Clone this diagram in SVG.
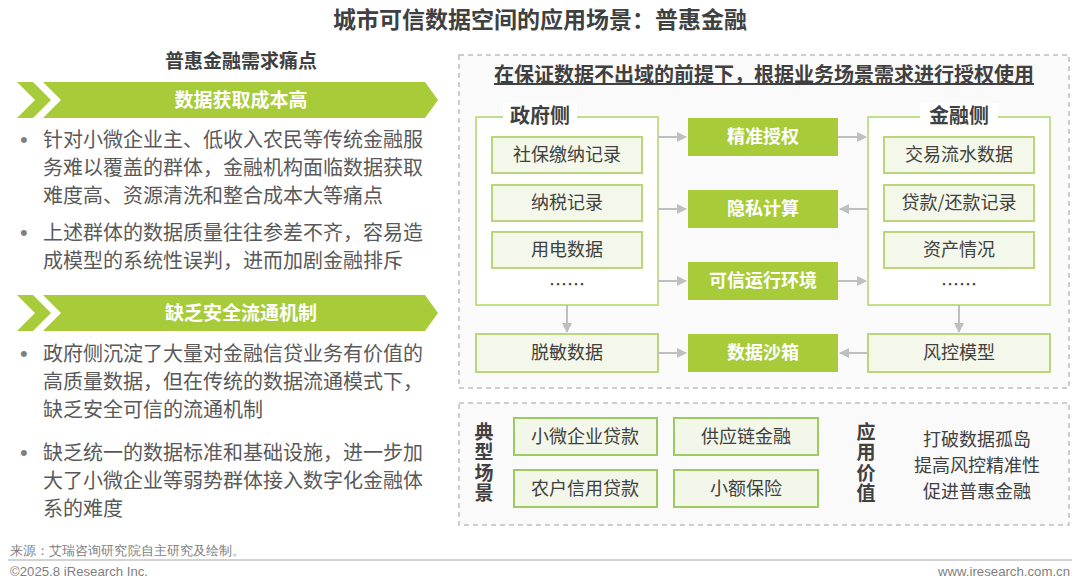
<svg xmlns="http://www.w3.org/2000/svg" width="1080" height="587" viewBox="0 0 1080 587">
<defs>
<style>
text{font-family:"Noto Sans CJK SC","Liberation Sans",sans-serif;}
.t{fill:#404040;font-weight:bold;}
.b{fill:#595959;font-size:20px;}
.dot{fill:#7f7f7f;font-size:22px;font-family:"Liberation Sans",sans-serif;}
.ban{fill:#a8cb3a;}
.bt{fill:#fff;font-weight:bold;font-size:19px;text-anchor:middle;}
.dash{fill:#fafafa;stroke:#bfbfbf;stroke-width:1.5;stroke-dasharray:5 4;}
.outer{fill:#fff;stroke:#c2df8a;stroke-width:2;}
.inner{fill:#f4f8ea;stroke:#b9d77a;stroke-width:2;}
.mid{fill:#a8cb3a;}
.it{fill:#404040;font-size:18px;text-anchor:middle;}
.mt{fill:#fff;font-size:18px;font-weight:bold;text-anchor:middle;}
.sc{fill:#f3f7ea;stroke:#9ccb62;stroke-width:2;}
.vt{fill:#404040;font-size:19px;font-weight:bold;text-anchor:middle;writing-mode:vertical-rl;letter-spacing:1.5px;}
.conn{stroke:#bfbfbf;stroke-width:2;fill:none;marker-end:url(#ah);}
.ft{fill:#7f7f7f;font-size:13px;font-family:"Liberation Sans Narrow","Liberation Sans",sans-serif;}
</style>
<marker id="ah" viewBox="0 0 10 10" refX="9" refY="5" markerWidth="5" markerHeight="5" orient="auto" markerUnits="strokeWidth">
<path d="M0,0 L10,5 L0,10 z" fill="#bfbfbf"/>
</marker>
</defs>
<rect width="1080" height="587" fill="#fff"/>

<text x="540" y="28" class="t" font-size="23" text-anchor="middle">城市可信数据空间的应用场景：普惠金融</text>

<g id="left-panel">
<text x="241" y="68" class="t" font-size="19" text-anchor="middle">普惠金融需求痛点</text>
<g id="banner1">
<polygon class="ban" points="17,82 33,82 51,100 33,118 17,118 35,100"/>
<polygon class="ban" points="43,82 425,82 438,100 425,118 43,118 61,100"/>
<text x="241" y="107" class="bt">数据获取成本高</text>
</g>
<g id="bullets1">
<text x="20" y="147" class="dot">•</text>
<text x="43" y="147" class="b">针对小微企业主、低收入农民等传统金融服</text>
<text x="43" y="175" class="b">务难以覆盖的群体，金融机构面临数据获取</text>
<text x="43" y="203" class="b">难度高、资源清洗和整合成本大等痛点</text>
<text x="20" y="240" class="dot">•</text>
<text x="43" y="240" class="b">上述群体的数据质量往往参差不齐，容易造</text>
<text x="43" y="268" class="b">成模型的系统性误判，进而加剧金融排斥</text>
</g>
<g id="banner2">
<polygon class="ban" points="17,295 33,295 51,313 33,331 17,331 35,313"/>
<polygon class="ban" points="43,295 425,295 438,313 425,331 43,331 61,313"/>
<text x="241" y="320" class="bt">缺乏安全流通机制</text>
</g>
<g id="bullets2">
<text x="20" y="361" class="dot">•</text>
<text x="43" y="361" class="b">政府侧沉淀了大量对金融信贷业务有价值的</text>
<text x="43" y="389" class="b">高质量数据，但在传统的数据流通模式下，</text>
<text x="43" y="417" class="b">缺乏安全可信的流通机制</text>
<text x="20" y="460" class="dot">•</text>
<text x="43" y="460" class="b">缺乏统一的数据标准和基础设施，进一步加</text>
<text x="43" y="488" class="b">大了小微企业等弱势群体接入数字化金融体</text>
<text x="43" y="516" class="b">系的难度</text>
</g>
</g>

<rect class="dash" x="459" y="55" width="610" height="333"/>
<text x="764" y="82" class="t" font-size="20" text-anchor="middle" text-decoration="underline">在保证数据不出域的前提下，根据业务场景需求进行授权使用</text>

<g id="gov">
<rect class="outer" x="476" y="117" width="182" height="188"/>
<rect x="503" y="103" width="74" height="24" fill="#fff"/>
<text x="540" y="123" class="t" font-size="20" text-anchor="middle">政府侧</text>
<rect class="inner" x="492" y="137" width="150" height="36"/>
<text x="567" y="161" class="it">社保缴纳记录</text>
<rect class="inner" x="492" y="185" width="150" height="36"/>
<text x="567" y="209" class="it">纳税记录</text>
<rect class="inner" x="492" y="232" width="150" height="36"/>
<text x="567" y="256" class="it">用电数据</text>
<text x="567" y="291" class="it">……</text>
</g>

<g id="fin">
<rect class="outer" x="868" y="117" width="182" height="188"/>
<rect x="920" y="103" width="78" height="24" fill="#fff"/>
<text x="959" y="123" class="t" font-size="20" text-anchor="middle">金融侧</text>
<rect class="inner" x="884" y="137" width="150" height="36"/>
<text x="959" y="161" class="it">交易流水数据</text>
<rect class="inner" x="884" y="185" width="150" height="36"/>
<text x="959" y="209" class="it">贷款/还款记录</text>
<rect class="inner" x="884" y="232" width="150" height="36"/>
<text x="959" y="256" class="it">资产情况</text>
<text x="959" y="291" class="it">……</text>
</g>

<g id="mid1"><rect class="mid" x="688" y="118" width="150" height="38"/><text x="763" y="143" class="mt">精准授权</text></g>
<g id="mid2"><rect class="mid" x="688" y="190" width="150" height="38"/><text x="763" y="215" class="mt">隐私计算</text></g>
<g id="mid3"><rect class="mid" x="688" y="262" width="150" height="38"/><text x="763" y="287" class="mt">可信运行环境</text></g>
<g id="mid4"><rect class="mid" x="688" y="334" width="150" height="38"/><text x="763" y="359" class="mt">数据沙箱</text></g>

<g id="desens"><rect class="inner" x="476" y="334" width="182" height="38"/><text x="567" y="359" class="it">脱敏数据</text></g>
<g id="risk"><rect class="inner" x="868" y="334" width="182" height="38"/><text x="959" y="359" class="it">风控模型</text></g>

<g id="connectors">
<line class="conn" x1="658" y1="137" x2="686" y2="137"/>
<line class="conn" x1="838" y1="137" x2="866" y2="137"/>
<line class="conn" x1="658" y1="209" x2="686" y2="209"/>
<line class="conn" x1="868" y1="209" x2="840" y2="209"/>
<line class="conn" x1="658" y1="281" x2="686" y2="281"/>
<line class="conn" x1="838" y1="281" x2="866" y2="281"/>
<line class="conn" x1="658" y1="353" x2="686" y2="353"/>
<line class="conn" x1="868" y1="353" x2="840" y2="353"/>
<line class="conn" x1="567" y1="305" x2="567" y2="332"/>
<line class="conn" x1="959" y1="305" x2="959" y2="332"/>
</g>

<rect class="dash" x="459" y="403" width="610" height="122"/>
<g id="scenario-label">
<text class="vt" x="484" y="463">典型场景</text>
</g>
<g id="s1"><rect class="sc" x="514" y="418" width="143" height="37"/><text x="585" y="443" class="it">小微企业贷款</text></g>
<g id="s2"><rect class="sc" x="674" y="418" width="144" height="37"/><text x="746" y="443" class="it">供应链金融</text></g>
<g id="s3"><rect class="sc" x="514" y="470" width="143" height="37"/><text x="585" y="495" class="it">农户信用贷款</text></g>
<g id="s4"><rect class="sc" x="674" y="470" width="144" height="37"/><text x="746" y="495" class="it">小额保险</text></g>
<g id="value-label">
<text class="vt" x="866" y="463">应用价值</text>
</g>
<g id="values">
<text x="977" y="446" class="it">打破数据孤岛</text>
<text x="977" y="472" class="it">提高风控精准性</text>
<text x="977" y="498" class="it">促进普惠金融</text>
</g>

<g id="footer">
<text x="10" y="555" class="ft" textLength="235" lengthAdjust="spacingAndGlyphs">来源：艾瑞咨询研究院自主研究及绘制。</text>
<line x1="8" y1="560" x2="1072" y2="560" stroke="#a6a6a6" stroke-width="1"/>
<text x="10" y="576" class="ft" textLength="138" lengthAdjust="spacingAndGlyphs">©2025.8 iResearch Inc.</text>
<text x="938" y="576" class="ft" textLength="132" lengthAdjust="spacingAndGlyphs">www.iresearch.com.cn</text>
</g>
</svg>
